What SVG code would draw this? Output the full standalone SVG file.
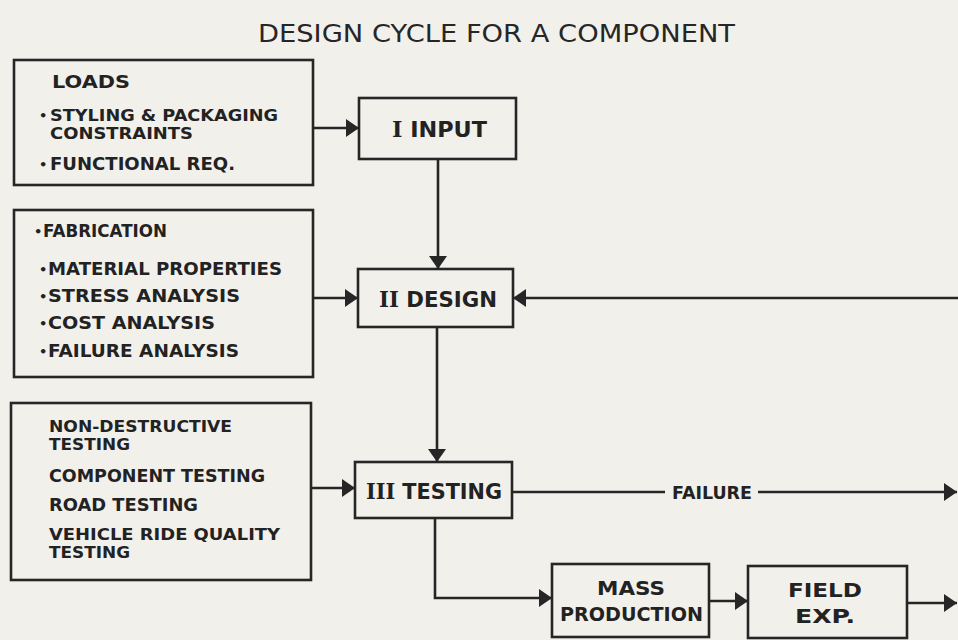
<svg xmlns="http://www.w3.org/2000/svg" width="958" height="640" viewBox="0 0 958 640">
<defs>
<style>
.bg{fill:#f2f0eb}
.box{fill:none;stroke:#262626;stroke-width:2.6}
.ln{fill:none;stroke:#262626;stroke-width:2.6}
.t{font-family:"DejaVu Sans","Liberation Sans",sans-serif;font-weight:bold;font-size:17.5px;fill:#222}
.s{font-size:15.5px}
.b{font-family:"DejaVu Sans","Liberation Sans",sans-serif;font-weight:bold;font-size:13px;fill:#222}
.n{font-family:"DejaVu Sans","Liberation Sans",sans-serif;font-weight:bold;font-size:22px;fill:#222}
.r{font-family:"DejaVu Serif","Liberation Serif",serif;font-weight:bold}
.title{font-family:"DejaVu Sans","Liberation Sans",sans-serif;font-size:25px;fill:#262626}
</style>
<marker id="ah" markerUnits="userSpaceOnUse" markerWidth="14" markerHeight="18" refX="13" refY="9" orient="auto">
<path d="M0,0 L13,9 L0,18 Z" fill="#262626"/>
</marker>
</defs>
<rect class="bg" x="0" y="0" width="958" height="640"/>
<text class="title" x="258" y="42" textLength="477" lengthAdjust="spacingAndGlyphs">DESIGN CYCLE FOR A COMPONENT</text>

<g id="loads">
<rect class="box" x="14" y="60" width="299" height="125"/>
<text class="t" x="52" y="88" textLength="78" lengthAdjust="spacingAndGlyphs">LOADS</text>
<text class="b" x="39" y="120">•</text>
<text class="t s" x="50" y="121" textLength="228" lengthAdjust="spacingAndGlyphs">STYLING &amp; PACKAGING</text>
<text class="t s" x="50" y="139" textLength="143" lengthAdjust="spacingAndGlyphs">CONSTRAINTS</text>
<text class="b" x="39" y="169">•</text>
<text class="t" x="50" y="170" textLength="185" lengthAdjust="spacingAndGlyphs">FUNCTIONAL REQ.</text>
</g>

<g id="input">
<rect class="box" x="359" y="98" width="157" height="61"/>
<text class="n" x="392" y="137" textLength="95" lengthAdjust="spacingAndGlyphs"><tspan class="r">I</tspan> INPUT</text>
</g>

<g id="factors">
<rect class="box" x="14" y="210" width="299" height="167"/>
<text class="b" x="34" y="236">•</text>
<text class="t" x="43" y="237" textLength="124" lengthAdjust="spacingAndGlyphs">FABRICATION</text>
<text class="b" x="39" y="274">•</text>
<text class="t" x="48" y="275" textLength="234" lengthAdjust="spacingAndGlyphs">MATERIAL PROPERTIES</text>
<text class="b" x="39" y="301">•</text>
<text class="t" x="48" y="302" textLength="192" lengthAdjust="spacingAndGlyphs">STRESS ANALYSIS</text>
<text class="b" x="39" y="328">•</text>
<text class="t" x="48" y="329" textLength="167" lengthAdjust="spacingAndGlyphs">COST ANALYSIS</text>
<text class="b" x="39" y="356">•</text>
<text class="t" x="48" y="357" textLength="191" lengthAdjust="spacingAndGlyphs">FAILURE ANALYSIS</text>
</g>

<g id="design">
<rect class="box" x="358" y="269" width="155" height="58"/>
<text class="n" x="379" y="307" textLength="118" lengthAdjust="spacingAndGlyphs"><tspan class="r">II</tspan> DESIGN</text>
</g>

<g id="tests">
<rect class="box" x="11" y="403" width="300" height="177"/>
<text class="t s" x="49" y="432" textLength="183" lengthAdjust="spacingAndGlyphs">NON-DESTRUCTIVE</text>
<text class="t s" x="49" y="450" textLength="81" lengthAdjust="spacingAndGlyphs">TESTING</text>
<text class="t" x="49" y="482" textLength="216" lengthAdjust="spacingAndGlyphs">COMPONENT  TESTING</text>
<text class="t" x="49" y="511" textLength="149" lengthAdjust="spacingAndGlyphs">ROAD TESTING</text>
<text class="t s" x="49" y="540" textLength="231" lengthAdjust="spacingAndGlyphs">VEHICLE RIDE QUALITY</text>
<text class="t s" x="49" y="558" textLength="81" lengthAdjust="spacingAndGlyphs">TESTING</text>
</g>

<g id="testing">
<rect class="box" x="355" y="462" width="157" height="56"/>
<text class="n" x="366" y="499" textLength="136" lengthAdjust="spacingAndGlyphs"><tspan class="r">III</tspan> TESTING</text>
</g>

<g id="mass">
<rect class="box" x="552" y="564" width="157" height="73"/>
<text class="n" x="597" y="595" textLength="68" lengthAdjust="spacingAndGlyphs" style="font-size:20px">MASS</text>
<text class="n" x="560" y="621" textLength="143" lengthAdjust="spacingAndGlyphs" style="font-size:20px">PRODUCTION</text>
</g>

<g id="field">
<rect class="box" x="748" y="566" width="159" height="72"/>
<text class="n" x="788" y="597" textLength="74" lengthAdjust="spacingAndGlyphs" style="font-size:20px">FIELD</text>
<text class="n" x="795" y="623" textLength="60" lengthAdjust="spacingAndGlyphs" style="font-size:20px">EXP.</text>
</g>

<g id="connectors">
<line class="ln" x1="313" y1="128" x2="359" y2="128" marker-end="url(#ah)"/>
<line class="ln" x1="438" y1="159" x2="438" y2="269" marker-end="url(#ah)"/>
<line class="ln" x1="313" y1="298" x2="358" y2="298" marker-end="url(#ah)"/>
<line class="ln" x1="958" y1="298" x2="513" y2="298" marker-end="url(#ah)"/>
<line class="ln" x1="437" y1="327" x2="437" y2="462" marker-end="url(#ah)"/>
<line class="ln" x1="311" y1="488" x2="355" y2="488" marker-end="url(#ah)"/>
<line class="ln" x1="512" y1="492" x2="665" y2="492"/>
<line class="ln" x1="758" y1="492" x2="957" y2="492" marker-end="url(#ah)"/>
<text class="t" x="672" y="499" textLength="80" lengthAdjust="spacingAndGlyphs" style="font-size:17px">FAILURE</text>
<polyline class="ln" points="435,518 435,598 552,598" marker-end="url(#ah)"/>
<line class="ln" x1="709" y1="601" x2="748" y2="601" marker-end="url(#ah)"/>
<line class="ln" x1="907" y1="603" x2="957" y2="603" marker-end="url(#ah)"/>
</g>
</svg>
